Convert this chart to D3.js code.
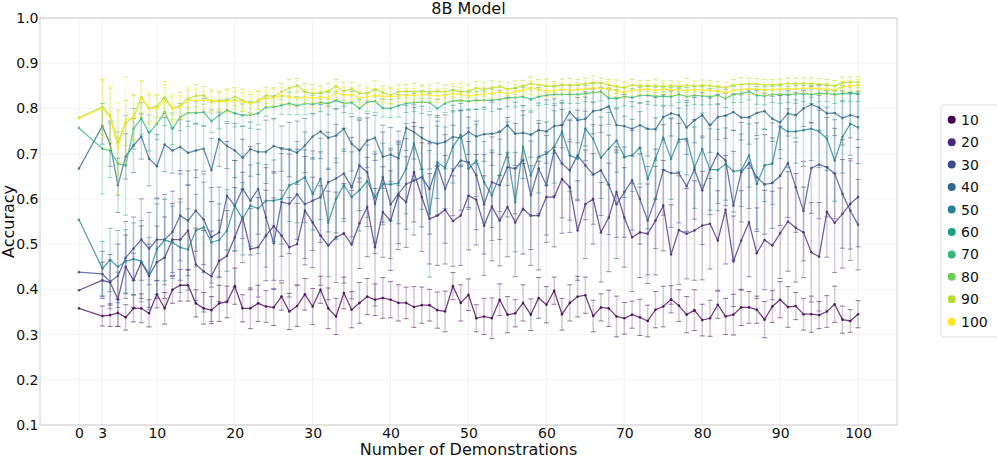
<!DOCTYPE html>
<html>
<head>
<meta charset="utf-8">
<script src="https://cdn.jsdelivr.net/npm/d3@7"></script>
<style>
  body { margin: 0; background: #fff; }
  svg text { font-family: "DejaVu Sans", sans-serif; fill: #111; }
</style>
</head>
<body>
<div class="chart_container"></div>
<script>
const w = 997;
const h = 458;
const margin = {top: 18, right: 100, bottom: 33, left: 40};

// number of demonstrations (0, then 3..100)
const xs = [0, 3, 4, 5, 6, 7, 8, 9, 10, 11,
  12, 13, 14, 15, 16, 17, 18, 19, 20, 21,
  22, 23, 24, 25, 26, 27, 28, 29, 30, 31,
  32, 33, 34, 35, 36, 37, 38, 39, 40, 41,
  42, 43, 44, 45, 46, 47, 48, 49, 50, 51,
  52, 53, 54, 55, 56, 57, 58, 59, 60, 61,
  62, 63, 64, 65, 66, 67, 68, 69, 70, 71,
  72, 73, 74, 75, 76, 77, 78, 79, 80, 81,
  82, 83, 84, 85, 86, 87, 88, 89, 90, 91,
  92, 93, 94, 95, 96, 97, 98, 99, 100];

const legendNames = ["10", "20", "30", "40", "50", "60", "70", "80", "90", "100"];
const xTicks = [0, 3, 10, 20, 30, 40, 50, 60, 70, 80, 90, 100];
const yTicks = [0.1, 0.2, 0.3, 0.4, 0.5, 0.6, 0.7, 0.8, 0.9, 1.0];

const acc10 = [0.358, 0.341, 0.343, 0.348, 0.338, 0.358, 0.358, 0.347, 0.389, 0.358,
  0.399, 0.409, 0.409, 0.369, 0.358, 0.354, 0.369, 0.372, 0.407, 0.358,
  0.358, 0.369, 0.362, 0.360, 0.384, 0.351, 0.363, 0.389, 0.362, 0.399,
  0.358, 0.340, 0.392, 0.355, 0.370, 0.384, 0.377, 0.381, 0.377, 0.370,
  0.370, 0.361, 0.365, 0.365, 0.354, 0.351, 0.407, 0.370, 0.388, 0.336,
  0.340, 0.336, 0.377, 0.344, 0.347, 0.370, 0.344, 0.381, 0.366, 0.397,
  0.345, 0.370, 0.384, 0.387, 0.341, 0.360, 0.358, 0.340, 0.336, 0.344,
  0.338, 0.330, 0.355, 0.362, 0.378, 0.364, 0.344, 0.354, 0.332, 0.336,
  0.366, 0.340, 0.344, 0.360, 0.360, 0.355, 0.333, 0.362, 0.377, 0.361,
  0.363, 0.345, 0.345, 0.343, 0.351, 0.367, 0.333, 0.330, 0.345];
const err10 = [0, 0.022, 0.025, 0.03, 0.028, 0.03, 0.032, 0.03, 0.03, 0.035,
  0.03, 0.035, 0.035, 0.03, 0.035, 0.03, 0.04, 0.035, 0.04, 0.03,
  0.045, 0.04, 0.035, 0.04, 0.03, 0.04, 0.045, 0.035, 0.04, 0.03,
  0.045, 0.04, 0.035, 0.04, 0.045, 0.04, 0.035, 0.045, 0.04, 0.04,
  0.035, 0.045, 0.04, 0.035, 0.04, 0.045, 0.03, 0.04, 0.035, 0.03,
  0.04, 0.045, 0.035, 0.04, 0.03, 0.04, 0.035, 0.045, 0.04, 0.03,
  0.035, 0.04, 0.045, 0.04, 0.035, 0.03, 0.04, 0.045, 0.035, 0.03,
  0.04, 0.035, 0.04, 0.045, 0.03, 0.035, 0.04, 0.045, 0.035, 0.04,
  0.03, 0.04, 0.045, 0.04, 0.035, 0.03, 0.04, 0.035, 0.04, 0.045,
  0.03, 0.035, 0.04, 0.03, 0.035, 0.04, 0.03, 0.025, 0.03];

const acc20 = [0.398, 0.420, 0.415, 0.378, 0.450, 0.420, 0.460, 0.430, 0.460, 0.470,
  0.510, 0.510, 0.530, 0.455, 0.440, 0.429, 0.463, 0.474, 0.515, 0.559,
  0.489, 0.493, 0.519, 0.540, 0.519, 0.493, 0.500, 0.574, 0.548, 0.519,
  0.497, 0.515, 0.524, 0.499, 0.546, 0.582, 0.493, 0.571, 0.552, 0.608,
  0.593, 0.659, 0.604, 0.556, 0.563, 0.576, 0.551, 0.563, 0.607, 0.598,
  0.541, 0.583, 0.552, 0.582, 0.548, 0.578, 0.563, 0.563, 0.604, 0.604,
  0.644, 0.626, 0.530, 0.588, 0.600, 0.526, 0.559, 0.615, 0.559, 0.515,
  0.526, 0.523, 0.552, 0.585, 0.477, 0.531, 0.523, 0.530, 0.541, 0.545,
  0.508, 0.576, 0.462, 0.508, 0.548, 0.480, 0.509, 0.497, 0.524, 0.550,
  0.536, 0.526, 0.482, 0.472, 0.571, 0.547, 0.567, 0.589, 0.604];
const err20 = [0, 0.04, 0.05, 0.06, 0.07, 0.06, 0.08, 0.07, 0.08, 0.09,
  0.08, 0.09, 0.1, 0.08, 0.09, 0.1, 0.09, 0.1, 0.11, 0.1,
  0.09, 0.11, 0.1, 0.12, 0.1, 0.11, 0.09, 0.12, 0.1, 0.11,
  0.12, 0.1, 0.11, 0.12, 0.1, 0.11, 0.13, 0.1, 0.11, 0.12,
  0.1, 0.11, 0.12, 0.1, 0.11, 0.12, 0.1, 0.11, 0.12, 0.1,
  0.11, 0.12, 0.1, 0.11, 0.12, 0.1, 0.11, 0.12, 0.1, 0.11,
  0.12, 0.1, 0.11, 0.12, 0.1, 0.11, 0.12, 0.1, 0.11, 0.12,
  0.1, 0.11, 0.12, 0.1, 0.11, 0.12, 0.1, 0.11, 0.12, 0.1,
  0.11, 0.12, 0.1, 0.11, 0.12, 0.1, 0.11, 0.12, 0.1, 0.11,
  0.12, 0.1, 0.11, 0.12, 0.1, 0.11, 0.12, 0.1, 0.11];

const acc30 = [0.438, 0.434, 0.417, 0.430, 0.470, 0.490, 0.510, 0.490, 0.510, 0.510,
  0.527, 0.563, 0.552, 0.574, 0.555, 0.515, 0.526, 0.607, 0.585, 0.622,
  0.596, 0.622, 0.559, 0.502, 0.593, 0.589, 0.610, 0.588, 0.596, 0.604,
  0.637, 0.645, 0.656, 0.626, 0.674, 0.659, 0.589, 0.648, 0.588, 0.611,
  0.633, 0.640, 0.648, 0.622, 0.674, 0.622, 0.663, 0.685, 0.681, 0.652,
  0.588, 0.637, 0.630, 0.670, 0.667, 0.685, 0.608, 0.667, 0.630, 0.707,
  0.678, 0.663, 0.696, 0.674, 0.654, 0.663, 0.631, 0.588, 0.615, 0.641,
  0.600, 0.552, 0.600, 0.664, 0.657, 0.657, 0.628, 0.665, 0.619, 0.665,
  0.700, 0.685, 0.585, 0.659, 0.679, 0.648, 0.632, 0.635, 0.651, 0.679,
  0.626, 0.573, 0.668, 0.676, 0.670, 0.656, 0.611, 0.574, 0.543];
const err30 = [0, 0.05, 0.06, 0.07, 0.08, 0.07, 0.09, 0.08, 0.09, 0.1,
  0.09, 0.1, 0.11, 0.09, 0.1, 0.11, 0.1, 0.12, 0.1, 0.11,
  0.12, 0.1, 0.11, 0.1, 0.12, 0.11, 0.1, 0.12, 0.11, 0.1,
  0.11, 0.12, 0.1, 0.11, 0.1, 0.12, 0.11, 0.1, 0.12, 0.11,
  0.1, 0.12, 0.11, 0.1, 0.11, 0.12, 0.1, 0.11, 0.1, 0.12,
  0.11, 0.1, 0.12, 0.11, 0.1, 0.11, 0.12, 0.1, 0.11, 0.1,
  0.12, 0.11, 0.1, 0.12, 0.11, 0.1, 0.11, 0.12, 0.1, 0.11,
  0.1, 0.12, 0.11, 0.1, 0.12, 0.11, 0.1, 0.11, 0.12, 0.1,
  0.11, 0.1, 0.12, 0.11, 0.1, 0.12, 0.11, 0.1, 0.11, 0.12,
  0.1, 0.11, 0.1, 0.12, 0.11, 0.1, 0.12, 0.11, 0.1];

const acc40 = [0.667, 0.761, 0.722, 0.630, 0.694, 0.718, 0.738, 0.689, 0.672, 0.720,
  0.707, 0.715, 0.702, 0.707, 0.711, 0.664, 0.732, 0.717, 0.707, 0.691,
  0.710, 0.704, 0.704, 0.717, 0.711, 0.709, 0.702, 0.718, 0.738, 0.749,
  0.735, 0.740, 0.755, 0.722, 0.707, 0.729, 0.735, 0.693, 0.698, 0.690,
  0.757, 0.748, 0.735, 0.726, 0.722, 0.726, 0.737, 0.735, 0.748, 0.738,
  0.743, 0.744, 0.748, 0.763, 0.744, 0.746, 0.742, 0.752, 0.749, 0.761,
  0.763, 0.792, 0.774, 0.777, 0.794, 0.797, 0.805, 0.763, 0.761, 0.755,
  0.763, 0.755, 0.754, 0.781, 0.789, 0.785, 0.758, 0.774, 0.785, 0.763,
  0.781, 0.784, 0.792, 0.780, 0.781, 0.790, 0.794, 0.777, 0.769, 0.789,
  0.785, 0.800, 0.809, 0.802, 0.789, 0.790, 0.779, 0.785, 0.781];
const err40 = [0, 0.04, 0.05, 0.06, 0.05, 0.06, 0.05, 0.06, 0.07, 0.06,
  0.05, 0.06, 0.07, 0.06, 0.05, 0.07, 0.06, 0.05, 0.06, 0.07,
  0.06, 0.05, 0.07, 0.06, 0.05, 0.06, 0.07, 0.06, 0.05, 0.06,
  0.07, 0.06, 0.05, 0.06, 0.07, 0.06, 0.05, 0.07, 0.06, 0.06,
  0.05, 0.06, 0.07, 0.06, 0.05, 0.06, 0.07, 0.06, 0.05, 0.06,
  0.06, 0.07, 0.05, 0.06, 0.07, 0.06, 0.05, 0.06, 0.07, 0.06,
  0.05, 0.06, 0.05, 0.06, 0.05, 0.05, 0.04, 0.06, 0.07, 0.06,
  0.05, 0.06, 0.07, 0.05, 0.05, 0.06, 0.06, 0.05, 0.05, 0.06,
  0.05, 0.05, 0.04, 0.05, 0.06, 0.05, 0.04, 0.05, 0.06, 0.05,
  0.05, 0.04, 0.04, 0.05, 0.05, 0.05, 0.06, 0.05, 0.05];

const acc50 = [0.554, 0.446, 0.465, 0.450, 0.462, 0.467, 0.462, 0.435, 0.489, 0.509,
  0.504, 0.493, 0.488, 0.530, 0.537, 0.504, 0.509, 0.530, 0.585, 0.556,
  0.585, 0.579, 0.596, 0.596, 0.600, 0.630, 0.637, 0.648, 0.611, 0.644,
  0.548, 0.600, 0.630, 0.604, 0.619, 0.639, 0.604, 0.633, 0.632, 0.635,
  0.667, 0.722, 0.667, 0.567, 0.681, 0.669, 0.715, 0.741, 0.667, 0.685,
  0.637, 0.608, 0.652, 0.700, 0.593, 0.715, 0.652, 0.693, 0.700, 0.715,
  0.748, 0.696, 0.689, 0.755, 0.733, 0.691, 0.711, 0.729, 0.693, 0.696,
  0.713, 0.644, 0.689, 0.735, 0.689, 0.731, 0.733, 0.669, 0.710, 0.665,
  0.664, 0.677, 0.661, 0.663, 0.696, 0.633, 0.674, 0.678, 0.759, 0.749,
  0.749, 0.752, 0.755, 0.749, 0.733, 0.685, 0.737, 0.766, 0.758];
const err50 = [0, 0.06, 0.07, 0.08, 0.07, 0.08, 0.09, 0.08, 0.1, 0.09,
  0.08, 0.1, 0.09, 0.08, 0.1, 0.09, 0.08, 0.09, 0.1, 0.08,
  0.09, 0.1, 0.08, 0.09, 0.1, 0.08, 0.09, 0.1, 0.08, 0.09,
  0.12, 0.09, 0.08, 0.1, 0.09, 0.08, 0.1, 0.09, 0.08, 0.09,
  0.1, 0.08, 0.09, 0.14, 0.08, 0.09, 0.08, 0.07, 0.09, 0.08,
  0.09, 0.1, 0.08, 0.07, 0.11, 0.07, 0.09, 0.08, 0.07, 0.08,
  0.07, 0.08, 0.09, 0.07, 0.08, 0.09, 0.08, 0.07, 0.09, 0.08,
  0.08, 0.11, 0.09, 0.07, 0.09, 0.07, 0.08, 0.09, 0.08, 0.09,
  0.09, 0.08, 0.09, 0.08, 0.07, 0.1, 0.08, 0.09, 0.07, 0.08,
  0.07, 0.08, 0.07, 0.08, 0.07, 0.09, 0.08, 0.07, 0.08];

const acc70 = [0.757, 0.711, 0.707, 0.678, 0.674, 0.755, 0.778, 0.746, 0.766, 0.792,
  0.755, 0.781, 0.790, 0.790, 0.792, 0.772, 0.785, 0.796, 0.789, 0.785,
  0.786, 0.789, 0.803, 0.803, 0.807, 0.811, 0.806, 0.811, 0.809, 0.813,
  0.811, 0.818, 0.811, 0.813, 0.800, 0.814, 0.816, 0.801, 0.800, 0.806,
  0.811, 0.813, 0.814, 0.813, 0.800, 0.811, 0.817, 0.817, 0.816, 0.818,
  0.818, 0.818, 0.820, 0.824, 0.824, 0.826, 0.820, 0.826, 0.829, 0.831,
  0.831, 0.831, 0.831, 0.833, 0.835, 0.837, 0.823, 0.822, 0.826, 0.824,
  0.829, 0.829, 0.827, 0.827, 0.826, 0.831, 0.826, 0.829, 0.828, 0.826,
  0.829, 0.822, 0.831, 0.833, 0.837, 0.829, 0.828, 0.831, 0.831, 0.831,
  0.831, 0.833, 0.831, 0.833, 0.833, 0.831, 0.833, 0.833, 0.833];
const err70 = [0, 0.1, 0.06, 0.07, 0.11, 0.045, 0.035, 0.04, 0.035, 0.03,
  0.035, 0.03, 0.03, 0.025, 0.03, 0.025, 0.03, 0.025, 0.03, 0.025,
  0.03, 0.025, 0.02, 0.025, 0.02, 0.025, 0.02, 0.025, 0.02, 0.02,
  0.025, 0.02, 0.02, 0.025, 0.02, 0.02, 0.025, 0.02, 0.02, 0.025,
  0.02, 0.02, 0.025, 0.02, 0.02, 0.02, 0.025, 0.02, 0.02, 0.02,
  0.02, 0.025, 0.02, 0.02, 0.02, 0.02, 0.025, 0.02, 0.02, 0.02,
  0.02, 0.02, 0.02, 0.018, 0.02, 0.02, 0.02, 0.02, 0.02, 0.02,
  0.018, 0.02, 0.02, 0.02, 0.02, 0.018, 0.02, 0.02, 0.02, 0.018,
  0.02, 0.02, 0.018, 0.02, 0.018, 0.02, 0.02, 0.018, 0.02, 0.018,
  0.02, 0.018, 0.02, 0.018, 0.018, 0.02, 0.018, 0.018, 0.018];

const acc90 = [0.780, 0.803, 0.785, 0.725, 0.768, 0.780, 0.825, 0.800, 0.805, 0.825,
  0.800, 0.806, 0.822, 0.828, 0.829, 0.814, 0.818, 0.818, 0.826, 0.818,
  0.811, 0.818, 0.829, 0.826, 0.837, 0.845, 0.851, 0.837, 0.833, 0.835,
  0.838, 0.849, 0.838, 0.843, 0.833, 0.833, 0.843, 0.835, 0.829, 0.837,
  0.838, 0.837, 0.837, 0.837, 0.838, 0.837, 0.840, 0.837, 0.838, 0.845,
  0.842, 0.846, 0.848, 0.843, 0.846, 0.850, 0.855, 0.852, 0.850, 0.848,
  0.853, 0.851, 0.852, 0.855, 0.857, 0.856, 0.852, 0.848, 0.846, 0.852,
  0.850, 0.850, 0.850, 0.849, 0.850, 0.848, 0.851, 0.849, 0.851, 0.850,
  0.848, 0.846, 0.852, 0.853, 0.855, 0.854, 0.852, 0.852, 0.853, 0.855,
  0.855, 0.855, 0.855, 0.854, 0.852, 0.850, 0.857, 0.858, 0.858];
const err90 = [0, 0.06, 0.06, 0.07, 0.05, 0.05, 0.035, 0.03, 0.025, 0.035,
  0.025, 0.03, 0.02, 0.025, 0.02, 0.025, 0.02, 0.025, 0.02, 0.025,
  0.02, 0.02, 0.018, 0.02, 0.018, 0.02, 0.015, 0.018, 0.02, 0.015,
  0.018, 0.015, 0.02, 0.015, 0.018, 0.015, 0.018, 0.015, 0.018, 0.015,
  0.015, 0.018, 0.015, 0.015, 0.018, 0.015, 0.015, 0.018, 0.015, 0.015,
  0.015, 0.015, 0.012, 0.015, 0.015, 0.012, 0.015, 0.012, 0.015, 0.012,
  0.012, 0.015, 0.012, 0.012, 0.015, 0.012, 0.012, 0.015, 0.012, 0.012,
  0.012, 0.012, 0.015, 0.012, 0.012, 0.012, 0.015, 0.012, 0.012, 0.012,
  0.012, 0.012, 0.012, 0.015, 0.012, 0.012, 0.012, 0.012, 0.012, 0.012,
  0.012, 0.012, 0.012, 0.012, 0.012, 0.012, 0.012, 0.012, 0.012];

const acc100 = [0.778, 0.800, 0.780, 0.712, 0.775, 0.780, 0.822, 0.800, 0.800, 0.818,
  0.800, 0.804, 0.818, 0.818, 0.818, 0.818, 0.815, 0.815, 0.818, 0.815,
  0.811, 0.818, 0.822, 0.823, 0.829, 0.826, 0.822, 0.826, 0.822, 0.826,
  0.823, 0.835, 0.829, 0.831, 0.823, 0.826, 0.829, 0.827, 0.826, 0.828,
  0.829, 0.829, 0.831, 0.829, 0.828, 0.829, 0.833, 0.831, 0.828, 0.830,
  0.832, 0.834, 0.836, 0.832, 0.838, 0.840, 0.846, 0.842, 0.838, 0.840,
  0.842, 0.840, 0.842, 0.843, 0.846, 0.844, 0.845, 0.838, 0.836, 0.840,
  0.842, 0.843, 0.840, 0.843, 0.841, 0.841, 0.839, 0.842, 0.841, 0.840,
  0.838, 0.835, 0.840, 0.842, 0.843, 0.843, 0.841, 0.842, 0.843, 0.844,
  0.843, 0.845, 0.845, 0.843, 0.844, 0.840, 0.848, 0.850, 0.852];
const err100 = [0, 0.065, 0.07, 0.1, 0.095, 0.05, 0.04, 0.035, 0.03, 0.035,
  0.03, 0.025, 0.03, 0.025, 0.02, 0.025, 0.02, 0.025, 0.02, 0.02,
  0.025, 0.02, 0.018, 0.02, 0.018, 0.02, 0.018, 0.015, 0.02, 0.015,
  0.018, 0.015, 0.018, 0.015, 0.015, 0.018, 0.015, 0.015, 0.018, 0.015,
  0.015, 0.015, 0.018, 0.015, 0.015, 0.015, 0.015, 0.015, 0.015, 0.015,
  0.015, 0.012, 0.015, 0.012, 0.015, 0.012, 0.015, 0.012, 0.012, 0.015,
  0.012, 0.012, 0.015, 0.012, 0.012, 0.012, 0.015, 0.012, 0.012, 0.012,
  0.012, 0.012, 0.012, 0.012, 0.012, 0.012, 0.012, 0.012, 0.012, 0.012,
  0.012, 0.012, 0.012, 0.012, 0.012, 0.012, 0.012, 0.012, 0.012, 0.012,
  0.012, 0.012, 0.012, 0.012, 0.012, 0.012, 0.012, 0.012, 0.012];

// 60 and 80 appear in the legend but leave no marks in the plot
const drawn = [
  {name: "10", acc: acc10, err: err10},
  {name: "20", acc: acc20, err: err20},
  {name: "30", acc: acc30, err: err30},
  {name: "40", acc: acc40, err: err40},
  {name: "50", acc: acc50, err: err50},
  {name: "70", acc: acc70, err: err70},
  {name: "90", acc: acc90, err: err90},
  {name: "100", acc: acc100, err: err100}
];

const color = name => d3.interpolateViridis(legendNames.indexOf(name) / (legendNames.length - 1));

const svg = d3.select(".chart_container").append("svg").attr("width", w).attr("height", h);

const xScale = d3.scaleLinear().domain([-5, 105]).range([margin.left, w - margin.right]);
const yScale = d3.scaleLinear().domain([0.1, 1.0]).range([h - margin.bottom, margin.top]);

// grid
svg.append("g")
  .selectAll("line")
  .data(yTicks)
  .enter()
  .append("line")
  .attr("x1", margin.left).attr("x2", w - margin.right)
  .attr("y1", d => yScale(d)).attr("y2", d => yScale(d))
  .attr("stroke", "#f0f0f0").attr("stroke-width", 0.8);

svg.append("g")
  .selectAll("line")
  .data(xTicks)
  .enter()
  .append("line")
  .attr("x1", d => xScale(d)).attr("x2", d => xScale(d))
  .attr("y1", margin.top).attr("y2", h - margin.bottom)
  .attr("stroke", "#f0f0f0").attr("stroke-width", 0.8);

// axes
const xAxis = d3.axisBottom(xScale).tickValues(xTicks).tickSize(0).tickPadding(3).tickFormat(d3.format("d"));
svg.append("g")
  .attr("id", "x-axis")
  .attr("transform", "translate(0," + (h - margin.bottom) + ")")
  .call(xAxis)
  .call(g => g.select(".domain").remove())
  .selectAll("text").attr("font-size", 14).attr("fill", "#111");

const yAxis = d3.axisLeft(yScale).tickValues(yTicks).tickSize(0).tickPadding(1.5).tickFormat(d3.format(".1f"));
svg.append("g")
  .attr("id", "y-axis")
  .attr("transform", "translate(" + margin.left + ",0)")
  .call(yAxis)
  .call(g => g.select(".domain").remove())
  .selectAll("text").attr("font-size", 14).attr("fill", "#111");

// frame
svg.append("rect")
  .attr("x", margin.left).attr("y", margin.top)
  .attr("width", w - margin.left - margin.right)
  .attr("height", h - margin.top - margin.bottom)
  .attr("fill", "none").attr("stroke", "#cccccc").attr("stroke-width", 1);

// series
const plot = svg.append("g");
const line = d3.line().x(d => xScale(d.x)).y(d => yScale(d.y));
const capW = 2.5;

drawn.forEach(s => {
  const c = color(s.name);
  const pts = xs.map((x, i) => ({x: x, y: s.acc[i], e: s.err[i]}));
  const g = plot.append("g").attr("class", "series-" + s.name);
  const bars = pts.filter(p => p.e > 0);

  g.selectAll("line.bar")
    .data(bars)
    .enter()
    .append("line")
    .attr("class", "bar")
    .attr("x1", d => xScale(d.x)).attr("x2", d => xScale(d.x))
    .attr("y1", d => yScale(d.y - d.e)).attr("y2", d => yScale(d.y + d.e))
    .attr("stroke", c).attr("stroke-width", 1.6).attr("stroke-opacity", 0.22);

  ["lo", "hi"].forEach(k => {
    g.selectAll("line.cap-" + k)
      .data(bars)
      .enter()
      .append("line")
      .attr("class", "cap-" + k)
      .attr("x1", d => xScale(d.x) - capW).attr("x2", d => xScale(d.x) + capW)
      .attr("y1", d => yScale(k == "lo" ? d.y - d.e : d.y + d.e))
      .attr("y2", d => yScale(k == "lo" ? d.y - d.e : d.y + d.e))
      .attr("stroke", c).attr("stroke-width", 1).attr("stroke-opacity", 0.55);
  });

  g.append("path")
    .datum(pts)
    .attr("d", line)
    .attr("fill", "none")
    .attr("stroke", c).attr("stroke-width", 1.3).attr("stroke-opacity", 0.75);

  g.selectAll("circle")
    .data(pts)
    .enter()
    .append("circle")
    .attr("cx", d => xScale(d.x)).attr("cy", d => yScale(d.y))
    .attr("r", 1.3)
    .attr("fill", c).attr("fill-opacity", 0.8);
});

// titles
svg.append("text")
  .attr("x", (margin.left + w - margin.right) / 2)
  .attr("y", 14)
  .attr("text-anchor", "middle")
  .attr("font-size", 16)
  .text("8B Model");

svg.append("text")
  .attr("x", (margin.left + w - margin.right) / 2)
  .attr("y", 455)
  .attr("text-anchor", "middle")
  .attr("font-size", 16)
  .text("Number of Demonstrations");

svg.append("text")
  .attr("transform", "rotate(-90)")
  .attr("x", -(margin.top + h - margin.bottom) / 2)
  .attr("y", 14)
  .attr("text-anchor", "middle")
  .attr("font-size", 16)
  .text("Accuracy");

// legend
const legend = svg.append("g").attr("transform", "translate(941,105)");
legend.append("rect")
  .attr("x", 0).attr("y", 0).attr("width", 70).attr("height", 232)
  .attr("rx", 3)
  .attr("fill", "#fff").attr("stroke", "#dddddd");

const items = legend.selectAll("g.item")
  .data(legendNames)
  .enter()
  .append("g")
  .attr("class", "item")
  .attr("transform", (d, i) => "translate(0," + (14.7 + i * 22.45) + ")");

items.append("circle")
  .attr("cx", 10.7).attr("cy", 0).attr("r", 4)
  .attr("fill", d => color(d));

items.append("text")
  .attr("x", 20).attr("y", 5)
  .attr("font-size", 14)
  .text(d => d);
</script>
</body>
</html>
